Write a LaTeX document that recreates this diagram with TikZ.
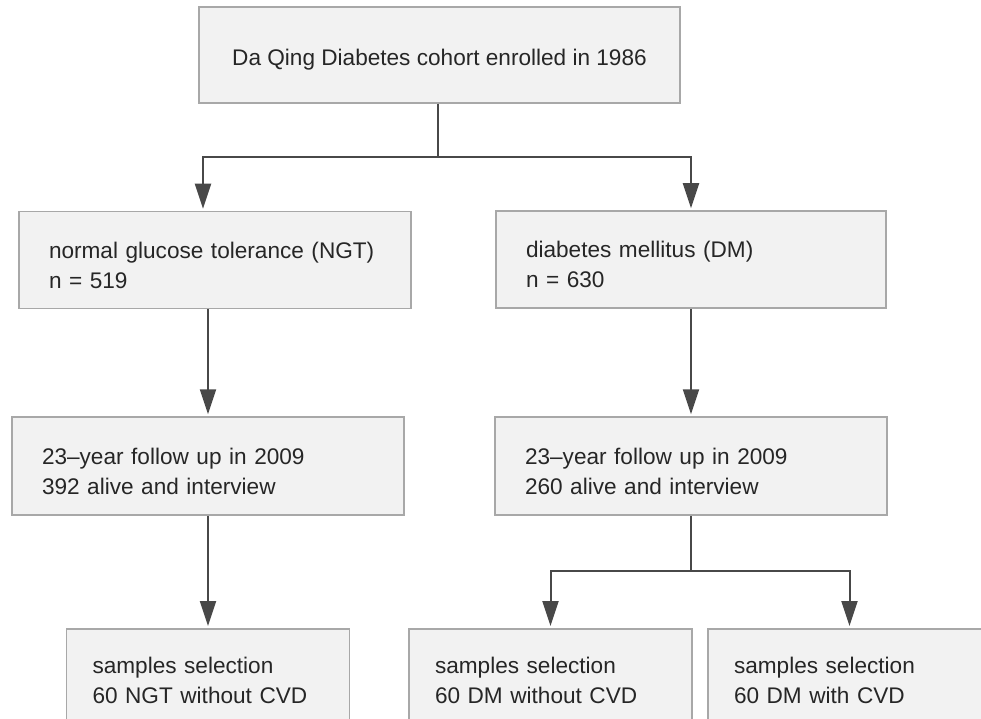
\documentclass[tikz,border=0pt]{standalone}
\usepackage{fontspec}
\setmainfont{Liberation Sans}
\usepackage{tikz}
\usetikzlibrary{arrows.meta}
\usepackage{xcolor}
\definecolor{boxgray}{RGB}{242,242,242}
\definecolor{edgegray}{RGB}{168,168,168}
\definecolor{linegray}{RGB}{72,72,72}
\definecolor{textgray}{RGB}{38,38,38}

\begin{document}
\begin{tikzpicture}[
    x=1pt, y=-1pt,
    block/.style={rectangle, draw=edgegray, line width=1.5pt, fill=boxgray, minimum height=97pt, inner xsep=30pt, inner ysep=0pt, align=left, text=textgray, font=\fontsize{22.6}{30}\selectfont, text height=26.5pt, text depth=30pt},
    topblock/.style={rectangle, draw=edgegray, line width=1.5pt, fill=boxgray, minimum width=481pt, minimum height=96pt, text=textgray, font=\fontsize{22.6}{30}\selectfont, text height=22pt, text depth=0pt},
    sblock/.style={block, inner xsep=26pt, minimum height=92pt, text width=231pt, anchor=north},
    conn/.style={line width=2pt, color=linegray},
    arr/.style={conn, -{Triangle[length=25pt, width=16pt]}, shorten >=2pt}
]
\clip (0,0) rectangle (981,719);

\node[topblock] (top) at (439.5,55) {Da Qing Diabetes cohort enrolled in 1986};
\node[block, text width=332pt] (ngt) at (215,260) {normal glucose tolerance (NGT)\\n = 519};
\node[block, text width=330pt] (dm) at (691,259.5) {diabetes mellitus (DM)\\n = 630};
\node[block, text width=332pt, minimum height=98pt] (ngtf) at (208,466) {23--year follow up in 2009\\392 alive and interview};
\node[block, text width=332pt, minimum height=98pt] (dmf) at (691,466) {23--year follow up in 2009\\260 alive and interview};
\node[sblock] (s1) at (208,628) {samples selection\\60 NGT without CVD};
\node[sblock] (s2) at (550.5,628) {samples selection\\60 DM without CVD};
\node[sblock] (s3) at (849.5,628) {samples selection\\60 DM with CVD};

% split points of the elbow connectors
\coordinate (split1) at (438,157);
\coordinate (split2) at (691,571);

\draw[conn] (top.south -| split1) -- (split1);
\draw[arr] (split1) -| ([xshift=-12pt]ngt.north);
\draw[arr] (split1) -| (dm.north);
\draw[arr] (ngt.south -| ngtf.north) -- (ngtf.north);
\draw[arr] (dm) -- (dmf);
\draw[arr] (ngtf) -- (s1);
\draw[conn] (dmf) -- (split2);
\draw[arr] (split2) -| (s2.north);
\draw[arr] (split2) -| (s3.north);
\end{tikzpicture}
\end{document}
